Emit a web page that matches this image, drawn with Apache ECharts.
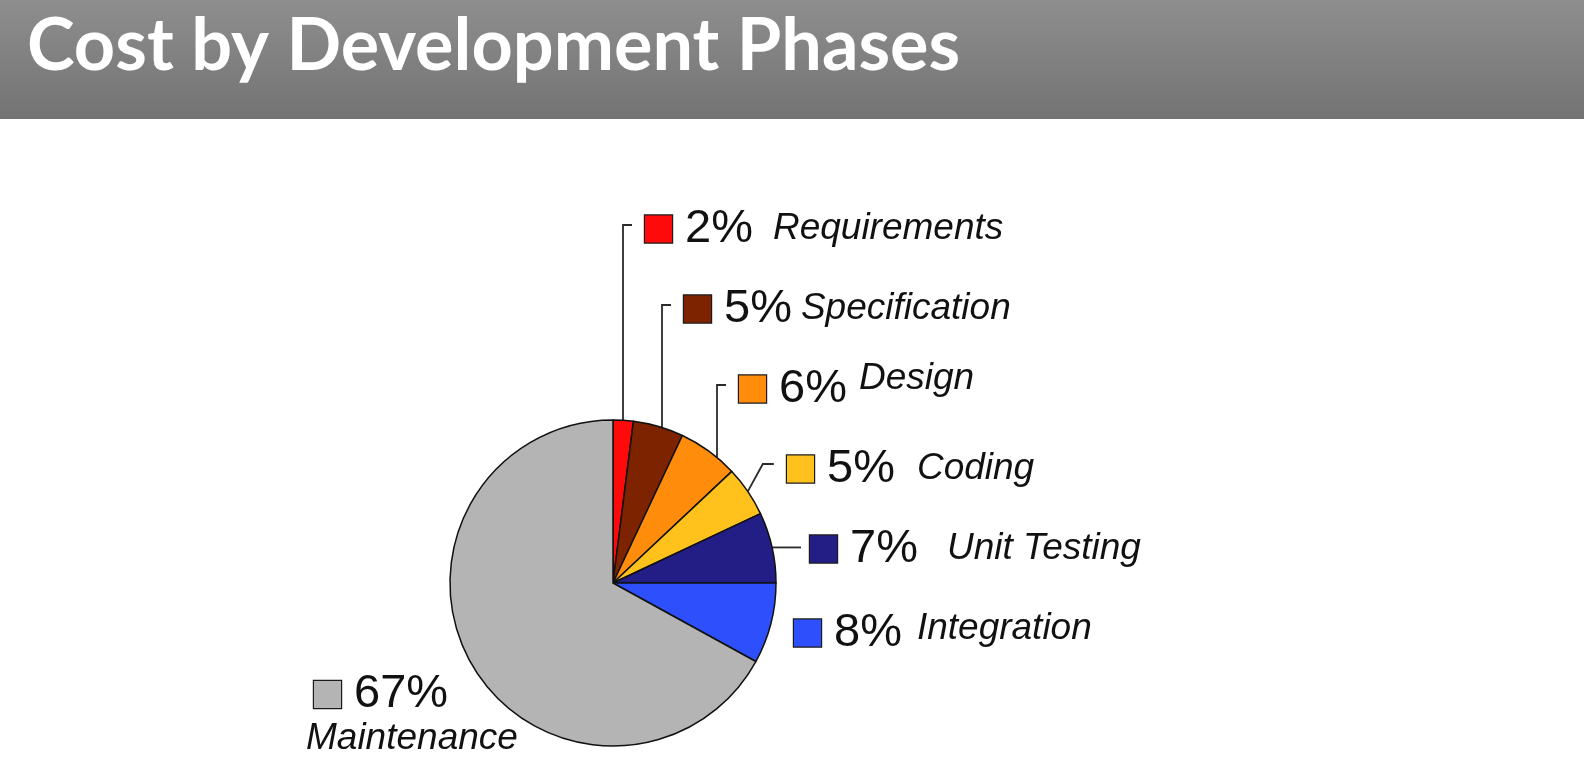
<!DOCTYPE html>
<html><head><meta charset="utf-8">
<script src="https://cdn.jsdelivr.net/npm/echarts@6/dist/echarts.min.js"></script>
<style>html,body{margin:0;padding:0;background:#fff}#c{width:1584px;height:776px}</style>
</head><body><div id="c"></div>
<script>
const titleText = 'Cost by Development Phases';
const phases = ['Requirements','Specification','Design','Coding','Unit Testing','Integration','Maintenance'];
const costPct = [2,5,6,5,7,8,67];
const colors = ['#ff0a0a','#7d2300','#ff8c0a','#ffc21c','#221e86','#2e50fc','#b4b4b4'];

// pie geometry
const pieCenter = [613,583];
const pieRadius = 163;

// label layout: anchor = left edge of the legend square, vertical middle
const labelPos = [[645,229],[684,309],[739,389],[787,469],[810,549],[794,633],[306,713]];
const gapAfterPct = [20,9,12,22,29,15,0];
const nameRaise = [0,0,10,0,0,4,0];
const leaderKind = ['up','up','up','diag','flat','none','none'];

const rich = {
  pct: {fontSize:47, fontFamily:'Liberation Sans, Arial', color:'#111', lineHeight:47, padding:[0,0,0,13]},
  lead: {width:8, height:10}
};
phases.forEach((p,i)=>{
  rich['sq'+i] = {width:27, height:27, backgroundColor:colors[i], borderColor:'#1a1a1a', borderWidth:1.2};
  rich['g'+i] = {width:gapAfterPct[i], height:10};
  rich['n'+i] = {fontSize:37, fontStyle:'italic', fontFamily:'Liberation Sans, Arial', color:'#111', lineHeight:37,
                 padding:[i===6?4:0,0,nameRaise[i]*2,0]};
});

const data = phases.map((p,i)=>({
  name:p, value:costPct[i],
  itemStyle:{color:colors[i]},
  labelLine:{show: leaderKind[i] !== 'none'}
}));

const chart = echarts.init(document.getElementById('c'), null, {renderer:'canvas'});
chart.setOption({
  animation:false,
  backgroundColor:'#fff',
  graphic:[
    {type:'rect', shape:{x:0,y:0,width:1584,height:119}, z:-1,
     style:{fill:{type:'linear',x:0,y:0,x2:0,y2:1,colorStops:[{offset:0,color:'#8e8e8e'},{offset:1,color:'#737373'}]}}},
    {type:'text', x:27, y:47, style:{text:titleText, font:'bold 72px Lato', fill:'#fff', textVerticalAlign:'middle'}}
  ],
  series:[{
    type:'pie',
    center:pieCenter,
    radius:pieRadius,
    startAngle:90,
    clockwise:true,
    data:data,
    itemStyle:{borderColor:'#111', borderWidth:1.5},
    emphasis:{disabled:true},
    label:{
      show:true, position:'outside',
      formatter:(pr)=>{
        const i = pr.dataIndex;
        if (i === 6) return '{lead|}{sq6|}{pct|' + costPct[i] + '%}\n{n6|' + phases[i] + '}';
        return '{sq'+i+'|}{pct|' + costPct[i] + '%}{g'+i+'|}{n'+i+'|' + phases[i] + '}';
      },
      rich:rich
    },
    labelLine:{show:true, smooth:false, length:10, length2:10, lineStyle:{color:'#2a2a2a', width:1.8}},
    labelLayout:(params)=>{
      const i = params.dataIndex;
      const [lx, ly] = labelPos[i];
      const res = {x:lx, y:ly, align:'left', verticalAlign:'middle'};
      const pts = params.labelLinePoints;
      if (pts && leaderKind[i] !== 'none') {
        const p0 = pts[0];
        if (leaderKind[i] === 'up') {
          const vx = lx - 22;
          const dx = vx - pieCenter[0];
          const vy = pieCenter[1] - Math.sqrt(Math.max(0, pieRadius*pieRadius - dx*dx));
          res.labelLinePoints = [[vx, vy], [vx, ly-4], [vx+9, ly-4]];
        }
        else if (leaderKind[i] === 'diag') res.labelLinePoints = [p0, [p0[0]+15, ly-5], [p0[0]+26, ly-5]];
        else res.labelLinePoints = [p0, [lx-9, p0[1]], [lx-9, p0[1]]];
      }
      return res;
    }
  }]
});
</script></body></html>
